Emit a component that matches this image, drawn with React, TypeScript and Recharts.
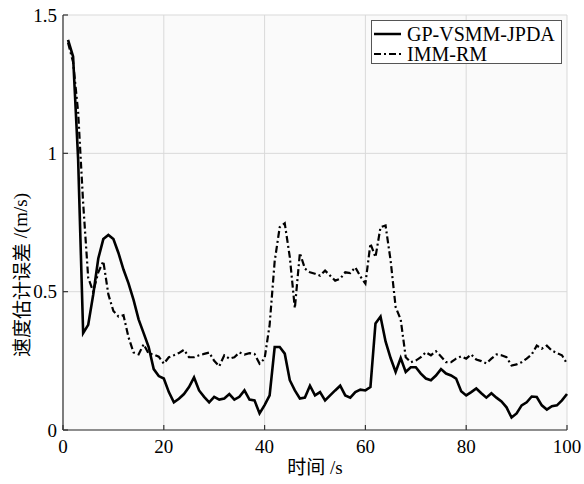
import React from 'react';
import { LineChart, Line, XAxis, YAxis, CartesianGrid, Legend } from 'recharts';

const timeSteps: number[] = Array.from({ length: 100 }, (_, i) => i + 1);

const gpVsmmJpda: number[] = [
  1.41, 1.35, 0.98, 0.35, 0.38, 0.49, 0.62, 0.69, 0.705, 0.69,
  0.64, 0.58, 0.53, 0.47, 0.40, 0.35, 0.30, 0.22, 0.195, 0.186,
  0.137, 0.10, 0.113, 0.13, 0.155, 0.19, 0.143, 0.12, 0.10, 0.12,
  0.11, 0.114, 0.13, 0.11, 0.12, 0.143, 0.11, 0.107, 0.06, 0.09,
  0.125, 0.30, 0.30, 0.276, 0.18, 0.143, 0.114, 0.117, 0.16, 0.125,
  0.137, 0.107, 0.125, 0.143, 0.16, 0.125, 0.117, 0.137, 0.146, 0.143,
  0.155, 0.385, 0.41, 0.32, 0.26, 0.21, 0.26, 0.21, 0.227, 0.227,
  0.204, 0.186, 0.18, 0.197, 0.22, 0.204, 0.197, 0.186, 0.14, 0.125,
  0.137, 0.15, 0.133, 0.117, 0.133, 0.117, 0.103, 0.082, 0.045, 0.06,
  0.089, 0.10, 0.121, 0.119, 0.089, 0.074, 0.086, 0.089, 0.107, 0.13,
];

const immRm: number[] = [
  1.40, 1.33, 1.15, 0.82, 0.55, 0.50, 0.57, 0.61, 0.49, 0.43,
  0.41, 0.415, 0.335, 0.28, 0.273, 0.31, 0.276, 0.273, 0.265, 0.24,
  0.263, 0.27, 0.278, 0.29, 0.263, 0.263, 0.27, 0.275, 0.28, 0.25,
  0.23, 0.27, 0.258, 0.263, 0.28, 0.273, 0.278, 0.275, 0.24, 0.258,
  0.38, 0.61, 0.733, 0.747, 0.625, 0.44, 0.64, 0.583, 0.57, 0.565,
  0.558, 0.576, 0.558, 0.54, 0.547, 0.57, 0.567, 0.588, 0.555, 0.529,
  0.674, 0.625, 0.733, 0.739, 0.613, 0.444, 0.40, 0.263, 0.245, 0.251,
  0.263, 0.281, 0.27, 0.285, 0.266, 0.245, 0.245, 0.258, 0.266, 0.258,
  0.273, 0.255, 0.249, 0.241, 0.258, 0.273, 0.27, 0.263, 0.233, 0.237,
  0.245, 0.258, 0.273, 0.305, 0.294, 0.305, 0.287, 0.278, 0.27, 0.24,
];

const xTicks: number[] = [0, 20, 40, 60, 80, 100];
const yTicks: number[] = [0, 0.5, 1, 1.5];

const seriesNames = ['GP-VSMM-JPDA', 'IMM-RM'];
const xLabelCjk = '时间';
const xLabelUnit = ' /s';
const yLabelCjk = '速度估计误差';
const yLabelUnit = ' /(m/s)';

const data = timeSteps.map((t, i) => ({ t, gp: gpVsmmJpda[i], imm: immRm[i] }));

const FONT = '"Liberation Serif", "Times New Roman", serif';
const CJK = '"Noto Sans CJK SC", sans-serif';
const DASH = '7 3 2 3';

const LegendBox = () => (
  <div
    style={{
      width: 191,
      height: 44,
      boxSizing: 'border-box',
      border: '1px solid #555',
      background: '#fff',
      fontFamily: FONT,
    }}
  >
    <svg width={189} height={42} style={{ overflow: 'visible', display: 'block' }}>
      <line x1={2} y1={13} x2={29} y2={13} stroke="#000" strokeWidth={2.5} />
      <text x={35} y={13} dy="0.35em" fontSize={20} fontFamily={FONT} fill="#000">
        {seriesNames[0]}
      </text>
      <line x1={2} y1={33} x2={29} y2={33} stroke="#000" strokeWidth={2} strokeDasharray={DASH} />
      <text x={35} y={33} dy="0.35em" fontSize={20} fontFamily={FONT} fill="#000">
        {seriesNames[1]}
      </text>
    </svg>
  </div>
);

const XLabelContent = (props: any) => {
  const vb = props.viewBox || {};
  const cx = (vb.x || 0) + (vb.width || 0) / 2;
  return (
    <text x={cx} y={474} textAnchor="middle" fontSize={19} fill="#000">
      <tspan style={{ fontFamily: CJK }}>{xLabelCjk}</tspan>
      <tspan style={{ fontFamily: FONT }}>{xLabelUnit}</tspan>
    </text>
  );
};

const YLabelContent = () => (
  <text
    x={20}
    y={275}
    transform="rotate(-90, 20, 275)"
    textAnchor="middle"
    dominantBaseline="central"
    fontSize={19}
    fill="#000"
  >
    <tspan style={{ fontFamily: CJK }}>{yLabelCjk}</tspan>
    <tspan style={{ fontFamily: FONT }}>{yLabelUnit}</tspan>
  </text>
);

const tickStyle = { fontSize: 19, fontFamily: FONT, fill: '#000', style: { fontFamily: FONT } };

export default function App() {
  return (
    <div
      style={{
        position: 'absolute',
        left: 0,
        top: 0,
        width: 584,
        height: 484,
        background: '#fff',
        fontFamily: FONT,
      }}
    >
      <LineChart
        width={584}
        height={484}
        data={data}
        margin={{ top: 15, right: 17, bottom: 14, left: 0 }}
        style={{ fontFamily: FONT }}
      >
        <CartesianGrid stroke="#d9d9d9" strokeWidth={1} fill="#fafafa" />
        <XAxis
          dataKey="t"
          type="number"
          domain={[0, 100]}
          ticks={xTicks}
          height={40}
          stroke="#333"
          strokeWidth={1.2}
          tickSize={-5}
          tickMargin={15}
          tick={tickStyle}
          label={{ content: XLabelContent }}
        />
        <XAxis
          xAxisId="top"
          orientation="top"
          dataKey="t"
          type="number"
          domain={[0, 100]}
          ticks={xTicks}
          height={0}
          stroke="#333"
          strokeWidth={1.2}
          tickSize={-5}
          tickFormatter={() => ''}
        />
        <YAxis
          type="number"
          domain={[0, 1.5]}
          ticks={yTicks}
          width={63}
          stroke="#333"
          strokeWidth={1.2}
          tickSize={-5}
          tickMargin={11}
          tick={tickStyle}
          label={{ content: YLabelContent }}
        />
        <YAxis
          yAxisId="right"
          orientation="right"
          type="number"
          domain={[0, 1.5]}
          ticks={yTicks}
          width={0}
          stroke="#333"
          strokeWidth={1.2}
          tickSize={-5}
          tickFormatter={() => ''}
        />
        <Legend
          layout="vertical"
          align="center"
          verticalAlign="middle"
          content={() => <LegendBox />}
          wrapperStyle={{ left: 371, top: 20, width: 191, height: 44 }}
        />
        <Line
          name={seriesNames[0]}
          dataKey="gp"
          stroke="#000"
          strokeWidth={2.6}
          dot={false}
          isAnimationActive={false}
        />
        <Line
          name={seriesNames[1]}
          dataKey="imm"
          stroke="#000"
          strokeWidth={2.2}
          strokeDasharray={DASH}
          dot={false}
          isAnimationActive={false}
        />
      </LineChart>
    </div>
  );
}
